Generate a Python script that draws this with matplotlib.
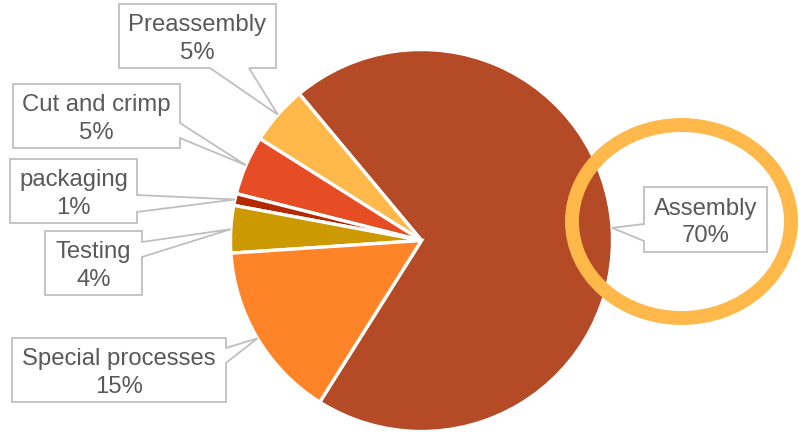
import matplotlib
matplotlib.use("Agg")
import matplotlib.pyplot as plt
import numpy as np
from matplotlib.patches import Ellipse, Polygon

# ---- data ----
labels = ["Assembly", "Preassembly", "Cut and crimp", "packaging", "Testing", "Special processes"]
values = [70, 5, 5, 1, 4, 15]
colors = ["#B54A27", "#FFB84A", "#E74D24", "#B32A00", "#CC9900", "#FF8427"]

# ---- layout (pixel coords, y measured from top) ----
W, H = 799, 434
CX, CY, R = 421.5, 240.5, 191
# box: (x0, y0, x1, y1), pointer edge, base positions along that edge
boxes = {
    "Assembly": ((644, 187, 767, 252), "left", (224, 241)),
    "Preassembly": ((119, 4, 276, 68), "bottom", (210, 249)),
    "Cut and crimp": ((13, 84, 180, 148), "right", (123, 138)),
    "packaging": ((10, 159, 137, 223), "right", (195, 212)),
    "Testing": ((45, 231, 142, 295), "right", (242, 257)),
    "Special processes": ((12, 338, 226, 402), "right", (348, 363)),
}

plt.rcParams["font.family"] = ["Liberation Sans", "DejaVu Sans"]
fig = plt.figure(figsize=(W / 100, H / 100), dpi=100)
ax = fig.add_axes([0, 0, 1, 1])

def Y(y):
    return H - y

wedges, _ = ax.pie(values, colors=colors, startangle=-122.2, counterclock=True,
                   center=(CX, Y(CY)), radius=R,
                   wedgeprops=dict(edgecolor="white", linewidth=2.4))
ax.set_xlim(0, W)
ax.set_ylim(0, H)
ax.axis("off")

# highlight ellipse
ax.add_patch(Ellipse((681.5, Y(221.5)), 219, 193, fill=False,
                     edgecolor="#FFB84A", linewidth=10, zorder=3))

total = sum(values)
for w, lab, v in zip(wedges, labels, values):
    (x0, y0, x1, y1), edge, (b1, b2) = boxes[lab]
    mid = np.deg2rad((w.theta1 + w.theta2) / 2)
    tip = (CX + R * np.cos(mid), Y(CY) + R * np.sin(mid))
    if edge == "bottom":
        pts = [(x0, Y(y0)), (x1, Y(y0)), (x1, Y(y1)), (b2, Y(y1)), tip, (b1, Y(y1)), (x0, Y(y1))]
    elif edge == "right":
        pts = [(x0, Y(y0)), (x1, Y(y0)), (x1, Y(b1)), tip, (x1, Y(b2)), (x1, Y(y1)), (x0, Y(y1))]
    else:  # left
        pts = [(x0, Y(y0)), (x1, Y(y0)), (x1, Y(y1)), (x0, Y(y1)), (x0, Y(b2)), tip, (x0, Y(b1))]
    ax.add_patch(Polygon(pts, closed=True, facecolor="white", edgecolor="#BFBFBF",
                         linewidth=1.3, zorder=4))
    ax.text((x0 + x1) / 2, Y((y0 + y1) / 2) - 3, f"{lab}\n{round(100 * v / total)}%",
            ha="center", va="center", fontsize=17.2, color="#595959",
            linespacing=1.32, zorder=5)

fig.savefig("out.png", dpi=100)
